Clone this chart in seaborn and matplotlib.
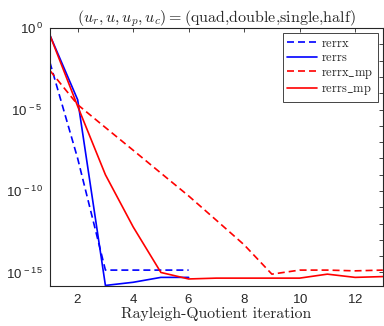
import matplotlib
matplotlib.use('Agg')
import matplotlib.pyplot as plt
import matplotlib.ticker as mticker
import numpy as np
import pandas as pd
import seaborn as sns

# iterations
iters_std = [1, 2, 3, 4, 5, 6]
iters_mp = [1, 2, 3, 4, 5, 6, 7, 8, 9, 10, 11, 12, 13]

# errors
rerrx = [7.9e-3, 1.0e-8, 1.4e-15, 1.4e-15, 1.4e-15, 1.4e-15]
rerrs = [3.7e-1, 4.0e-5, 1.6e-16, 2.5e-16, 5.0e-16, 5.0e-16]
rerrx_mp = [2.5e-3, 2.0e-5, 7.9e-7, 3.2e-8, 1.26e-9, 5.0e-11, 1.6e-12,
            5.0e-14, 7.9e-16, 1.4e-15, 1.4e-15, 1.26e-15, 1.4e-15]
rerrs_mp = [3.7e-1, 1.6e-5, 1.0e-9, 6.3e-13, 1.0e-15, 4.0e-16, 4.5e-16,
            4.5e-16, 4.5e-16, 4.5e-16, 7.9e-16, 5.0e-16, 5.6e-16]

sns.set_theme(style='white')
plt.rcParams['mathtext.fontset'] = 'cm'
plt.rcParams['axes.formatter.use_mathtext'] = True
plt.rcParams['font.family'] = ['Liberation Sans', 'DejaVu Sans']

df_std = pd.DataFrame({'it': iters_std, 'rerrx': rerrx, 'rerrs': rerrs})
df_mp = pd.DataFrame({'it': iters_mp, 'rerrx_mp': rerrx_mp, 'rerrs_mp': rerrs_mp})

fig = plt.figure(figsize=(3.84, 3.26), dpi=100)
ax = fig.add_axes([0.130, 0.1227, 0.867, 0.791])

dash = (0, (4.2, 2.4))
lw = 1.2
sns.lineplot(data=df_std, x='it', y='rerrx', ax=ax, color='#0000ff', lw=lw,
             linestyle=dash, label=r'$\mathrm{rerrx}$')
sns.lineplot(data=df_std, x='it', y='rerrs', ax=ax, color='#0000ff', lw=lw,
             label=r'$\mathrm{rerrs}$')
sns.lineplot(data=df_mp, x='it', y='rerrx_mp', ax=ax, color='#ff0000', lw=lw,
             linestyle=dash, label=r'$\mathrm{rerrx\_mp}$')
sns.lineplot(data=df_mp, x='it', y='rerrs_mp', ax=ax, color='#ff0000', lw=lw,
             label=r'$\mathrm{rerrs\_mp}$')

ax.set_yscale('log')
ax.set_xlim(1, 13)
ax.set_ylim(10 ** -15.83, 1)

ax.xaxis.set_major_locator(mticker.FixedLocator([2, 4, 6, 8, 10, 12]))
decades = [10.0 ** k for k in range(-15, 1)]
ax.yaxis.set_major_locator(mticker.FixedLocator(decades))
ax.yaxis.set_minor_locator(mticker.NullLocator())


def ylab(v, pos):
    k = int(round(np.log10(v)))
    if k % 5 == 0:
        return r'$\mathdefault{10^{\,%d}}$' % k
    return ''


ax.yaxis.set_major_formatter(mticker.FuncFormatter(ylab))

axcol = '#262626'
for s in ax.spines.values():
    s.set_color(axcol)
    s.set_linewidth(0.8)
ax.tick_params(axis='both', which='both', direction='in', top=True, right=True,
               length=3, width=0.6, color=axcol, labelcolor=axcol, labelsize=9.5,
               pad=5)

ax.set_xlabel('Rayleigh-Quotient iteration', fontfamily='cmr10', fontsize=11.3,
              color=axcol, labelpad=1)
ax.set_ylabel('')
ax.set_title(r'$(u_r,u,u_p,u_c)=$(quad,double,single,half)', fontfamily='cmr10',
             fontsize=11.5, color=axcol, pad=4)

leg = ax.legend(loc='upper right', bbox_to_anchor=(0.985, 0.98), borderaxespad=0,
                fancybox=False, framealpha=1, edgecolor=axcol, fontsize=9,
                handlelength=2.4, handletextpad=0.3, labelspacing=0.2,
                borderpad=0.35)
leg.get_frame().set_linewidth(0.6)

fig.savefig('out.png', dpi=100)
